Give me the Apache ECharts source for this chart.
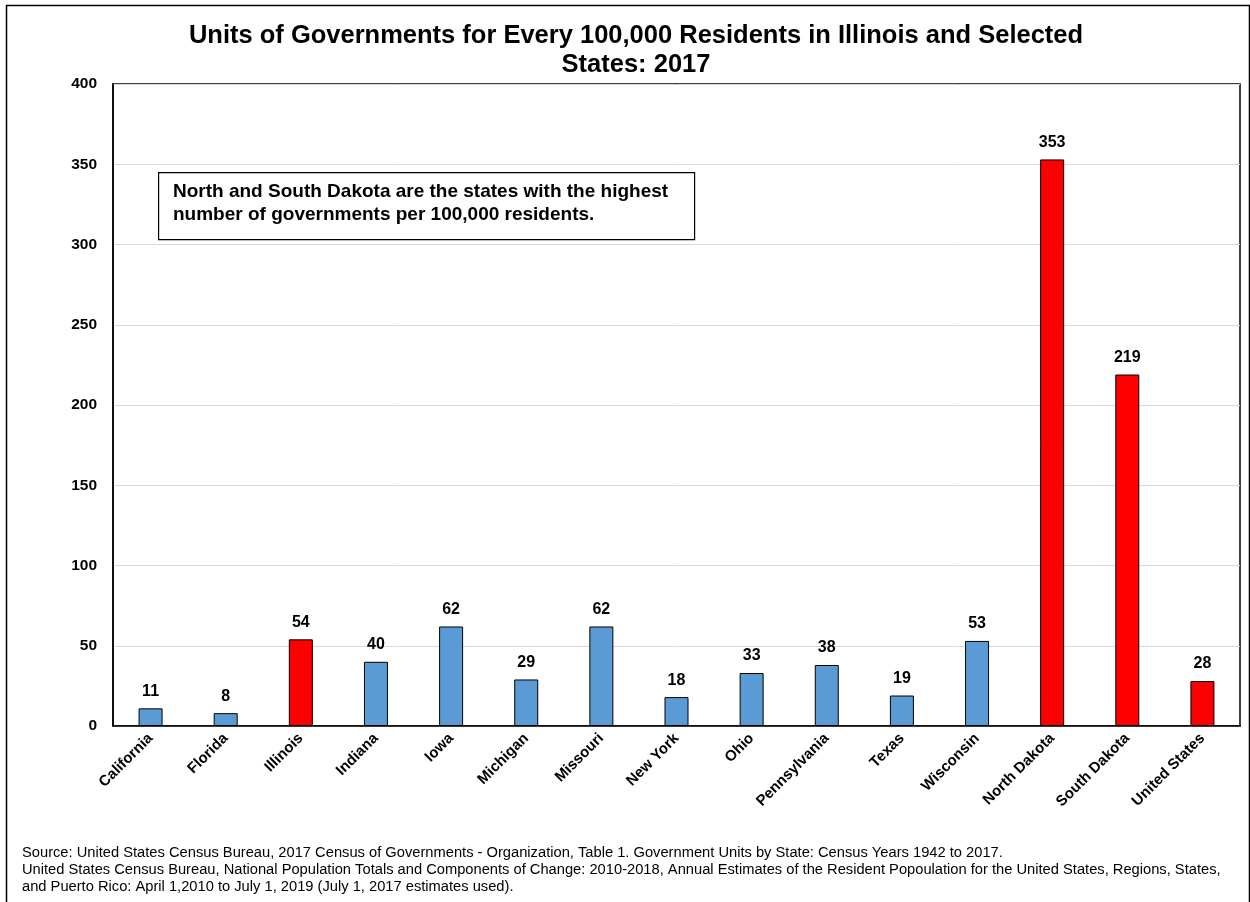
<!DOCTYPE html>
<html>
<head>
<meta charset="utf-8">
<script src="https://cdn.jsdelivr.net/npm/echarts@6/dist/echarts.min.js"></script>
<style>html,body{margin:0;padding:0;background:#fff}#c{width:1250px;height:902px}</style>
</head>
<body>
<div id="c"></div>
<script>
const categories = ["California","Florida","Illinois","Indiana","Iowa","Michigan","Missouri","New York","Ohio","Pennsylvania","Texas","Wisconsin","North Dakota","South Dakota","United States"];
const values = [11, 8, 54, 40, 62, 29, 62, 18, 33, 38, 19, 53, 353, 219, 28];
const highlighted = ["Illinois","North Dakota","South Dakota","United States"];
const yTicks = [0, 50, 100, 150, 200, 250, 300, 350, 400];
const titleText = "Units of Governments for Every 100,000 Residents in Illinois and Selected\nStates: 2017";
const noteText = "North and South Dakota are the states with the highest\nnumber of governments per 100,000 residents.";
const sourceText = "Source: United States Census Bureau, 2017 Census of Governments - Organization, Table 1. Government Units by State: Census Years 1942 to 2017.\nUnited States Census Bureau, National Population Totals and Components of Change: 2010-2018, Annual Estimates of the Resident Popoulation for the United States, Regions, States,\nand Puerto Rico: April 1,2010 to July 1, 2019 (July 1, 2017 estimates used).";

const FONT = "'Liberation Sans', Arial, sans-serif";
const chart = echarts.init(document.getElementById('c'), null, {renderer: 'canvas'});
chart.setOption({
  animation: false,
  backgroundColor: '#fff',
  title: {
    text: titleText, left: 631, top: 16, textAlign: 'center',
    textStyle: {fontFamily: FONT, fontWeight: 'bold', fontSize: 25.5, lineHeight: 29, color: '#000'}
  },
  grid: {left: 113, right: 10, top: 84, bottom: 176, show: true, borderColor: '#000', borderWidth: 1.5, backgroundColor: 'transparent'},
  xAxis: {
    type: 'category', data: categories,
    axisLine: {lineStyle: {color: '#000', width: 1.5}},
    axisTick: {show: false},
    axisLabel: {rotate: 45, interval: 0, margin: 10, fontFamily: FONT, fontWeight: 'bold', fontSize: 15, color: '#000'}
  },
  yAxis: {
    type: 'value', min: yTicks[0], max: yTicks[yTicks.length-1], interval: 50,
    axisLine: {show: true, lineStyle: {color: '#000', width: 1.5}},
    axisTick: {show: false},
    axisLabel: {margin: 16, fontFamily: FONT, fontWeight: 'bold', fontSize: 15.5, color: '#000'},
    splitLine: {lineStyle: {color: '#d9d9d9', width: 1}}
  },
  series: [{
    type: 'bar', barWidth: 24,
    data: values.map((v, i) => ({
      value: v,
      itemStyle: {color: highlighted.includes(categories[i]) ? '#ff0000' : '#5b9bd5', borderColor: '#000', borderWidth: 1}
    })),
    label: {show: true, position: 'top', distance: 9, fontFamily: FONT, fontWeight: 'bold', fontSize: 16, color: '#000'}
  }],
  graphic: [
    {type: 'rect', left: 4, top: 3, shape: {width: 1243, height: 905}, style: {fill: 'none', stroke: '#000', lineWidth: 1.5}, silent: true, z: 0},
    {type: 'rect', left: 158, top: 172, shape: {width: 536, height: 67}, style: {fill: '#fff', stroke: '#000', lineWidth: 1.2}, z: 10},
    {type: 'text', left: 173, top: 180, style: {text: noteText, fontFamily: FONT, fontWeight: 'bold', fontSize: 19, lineHeight: 23, fill: '#000'}, z: 11},
    {type: 'text', left: 22, top: 845, style: {text: sourceText, fontFamily: FONT, fontSize: 14.7, lineHeight: 16.7, fill: '#000'}, z: 11}
  ]
});
</script>
</body>
</html>
